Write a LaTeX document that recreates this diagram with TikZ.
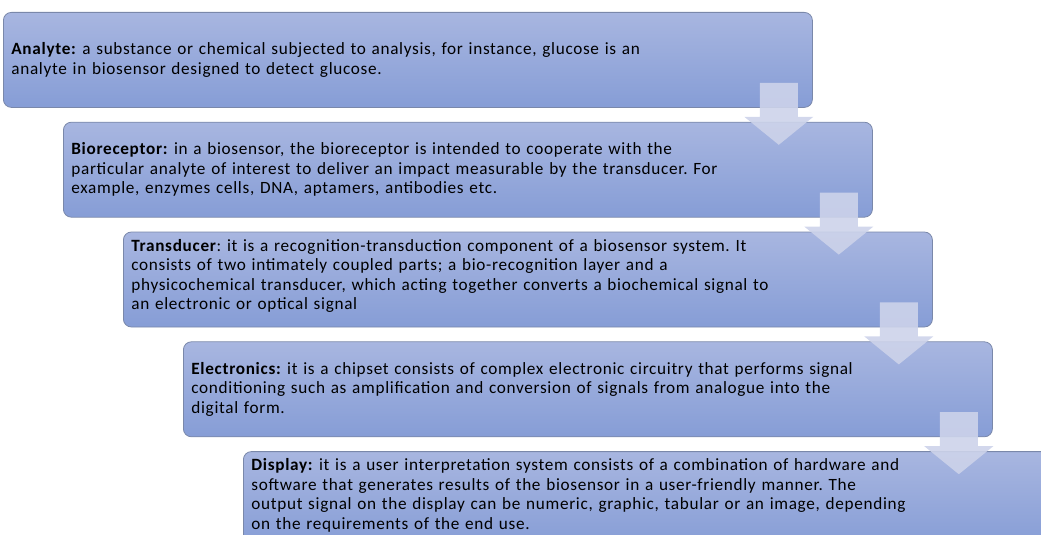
\documentclass[tikz,border=0pt]{standalone}
\usepackage{fontspec}
\setmainfont{Carlito}[LetterSpace=4.0]
\frenchspacing
\usetikzlibrary{positioning}

\definecolor{boxtop}{RGB}{168,182,224}
\definecolor{boxbottom}{RGB}{134,157,214}
\definecolor{boxline}{RGB}{122,136,170}
\definecolor{arrowfill}{RGB}{205,211,234}

\begin{document}
\begin{tikzpicture}[x=1pt, y=-1pt,
    stage/.style={rectangle, rounded corners=8pt, draw=boxline, line width=0.8pt,
        top color=boxtop, bottom color=boxbottom, minimum width=809pt, minimum height=95pt,
        inner xsep=8pt, text width=793pt, align=left, anchor=north west,
        font=\fontsize{17.2}{19.5}\selectfont},
    downarrow/.style={fill=arrowfill, fill opacity=0.9}]
\useasboundingbox (0,0) rectangle (1041,535);

% stages
\node[stage] (analyte) at (3,12) {\textbf{Analyte:} a substance or chemical subjected to analysis, for instance, glucose is an\\analyte in biosensor designed to detect glucose.};
\node[stage, below right=14pt and 60pt of analyte.south west] (bioreceptor) {\textbf{Bioreceptor:} in a biosensor, the bioreceptor is intended to cooperate with the\\particular analyte of interest to deliver an impact measurable by the transducer. For\\example, enzymes cells, DNA, aptamers, antibodies etc.};
\node[stage, below right=14pt and 60pt of bioreceptor.south west] (transducer) {\textbf{Transducer}: it is a recognition-transduction component of a biosensor system. It\\consists of two intimately coupled parts; a bio-recognition layer and a\\physicochemical transducer, which acting together converts a biochemical signal to\\an electronic or optical signal\rule[-10pt]{0pt}{10pt}};
\node[stage, below right=14pt and 60pt of transducer.south west] (electronics) {\textbf{Electronics:} it is a chipset consists of complex electronic circuitry that performs signal\\conditioning such as amplification and conversion of signals from analogue into the\\digital form.};
\node[stage, below right=14pt and 60pt of electronics.south west] (display) {\textbf{Display:} it is a user interpretation system consists of a combination of hardware and\\software that generates results of the biosensor in a user-friendly manner. The\\output signal on the display can be numeric, graphic, tabular or an image, depending\\on the requirements of the end use.\rule[-10pt]{0pt}{10pt}};

% arrows
\fill[downarrow] ([shift={(-53,-25)}]analyte.south east) -- ++(38,0) -- ++(0,34) -- ++(15.5,0) -- ++(-34.5,28) -- ++(-34.5,-28) -- ++(15.5,0) -- cycle;
\fill[downarrow] ([shift={(-53,-25)}]bioreceptor.south east) -- ++(38,0) -- ++(0,34) -- ++(15.5,0) -- ++(-34.5,28) -- ++(-34.5,-28) -- ++(15.5,0) -- cycle;
\fill[downarrow] ([shift={(-53,-25)}]transducer.south east) -- ++(38,0) -- ++(0,34) -- ++(15.5,0) -- ++(-34.5,28) -- ++(-34.5,-28) -- ++(15.5,0) -- cycle;
\fill[downarrow] ([shift={(-53,-25)}]electronics.south east) -- ++(38,0) -- ++(0,34) -- ++(15.5,0) -- ++(-34.5,28) -- ++(-34.5,-28) -- ++(15.5,0) -- cycle;

\end{tikzpicture}
\end{document}
